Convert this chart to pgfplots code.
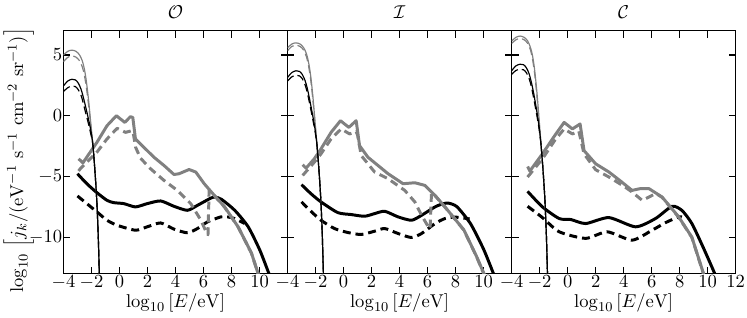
\documentclass[border=0pt]{standalone}
\usepackage{pgfplots}
\pgfplotsset{compat=1.18}
\definecolor{mgray}{gray}{0.5}
\newcommand{\fs}{\fontsize{10.95}{13.6}\selectfont}
\pgfplotsset{
  panel/.style={
    scale only axis, width=132.4pt, height=143.5pt,
    xmin=-4, xmax=12, ymin=-13, ymax=7,
    xtick={-4,-2,...,12}, ytick={-10,-5,0,5},
    tick align=inside, xtick pos=both, ytick pos=both,
    xticklabel pos=lower, yticklabel pos=left,
    major tick length=4.1pt, minor tick num=0,
    axis line style={line width=0.6pt},
    every tick/.style={black, line width=0.6pt},
    tick label style={font=\fs},
    label style={font=\fs},
    xticklabel style={inner sep=1.2pt},
    yticklabel style={inner sep=0.6pt},
    xlabel={$\log_{10}\left[E/\mathrm{eV}\right]$},
    xlabel style={yshift=2.4pt},
    title style={font=\fs, yshift=-2.2pt},
    clip=true,
  },
  tks/.style={black, line width=1.76pt, line join=round, smooth, tension=0.4},
  tkd/.style={black, line width=1.76pt, line join=round, dash pattern=on 4.7pt off 2.9pt, smooth, tension=0.4},
  tgs/.style={mgray, line width=1.76pt, line join=round},
  tgd/.style={mgray, line width=1.76pt, line join=round, dash pattern=on 4.7pt off 2.9pt},
  nbs/.style={black, line width=0.7pt, smooth, tension=0.5},
  nbd/.style={black, line width=0.7pt, dash pattern=on 4.7pt off 2.35pt, smooth, tension=0.5},
  ngs/.style={mgray, line width=0.7pt, smooth, tension=0.5},
  ngd/.style={mgray, line width=0.7pt, dash pattern=on 4.7pt off 2.35pt, smooth, tension=0.5},
}
\begin{document}
\begin{tikzpicture}
% ---------------- Panel O ----------------
\begin{axis}[panel, name=p1, at={(0pt,0pt)}, title={$\mathcal{O}$},
  xticklabels={$-4$,$-2$,$0$,$2$,$4$,$6$,$8$,$10$,{}}]
\addplot[tks] coordinates {(-3.0,-4.78) (-2.33,-5.6) (-1.61,-6.34) (-0.89,-6.97) (-0.41,-7.16) (0.31,-7.24) (1.14,-7.51) (1.98,-7.24) (2.94,-7.02) (3.89,-7.46) (4.85,-7.79) (5.57,-7.38) (6.53,-6.78) (6.85,-6.7) (7.3,-6.9) (8.23,-7.79) (9.19,-9.15) (10.02,-11.07) (10.67,-13) (11,-14)};
\addplot[tkd] coordinates {(-3.0,-6.61) (-2.33,-7.24) (-1.61,-7.92) (-0.89,-8.61) (-0.17,-9.02) (1.14,-9.43) (1.98,-9.15) (2.94,-8.83) (3.89,-9.34) (4.85,-9.64) (5.57,-9.29) (6.29,-8.74) (7.24,-8.33) (7.7,-8.33) (8.23,-8.47) (8.94,-8.88)};
\addplot[tgs] coordinates {(-2.92,-3.55) (-2.61,-3.88) (-2.09,-3.0) (-1.61,-2.19) (-0.89,-0.82) (-0.22,0.0) (0.07,-0.27) (0.38,-0.55) (0.78,-0.08) (0.95,-0.14) (1.14,-1.91) (1.74,-2.6) (2.46,-3.42) (3.18,-4.1) (3.89,-4.84) (4.25,-4.78) (4.97,-4.43) (5.45,-4.64) (6.05,-5.6) (6.77,-6.56) (7.5,-7.5) (8.47,-9.15) (9.42,-11.3) (9.9,-13) (10.1,-14)};
\addplot[tgd] coordinates {(-2.92,-4.55) (-2.8,-4.37) (-1.61,-3.0) (-0.89,-1.91) (-0.17,-1.04) (0.43,-1.37) (0.9,-1.23) (0.98,-1.4) (1.15,-2.6) (1.5,-3.5) (2.22,-4.37) (3.18,-5.33) (4.13,-6.15) (5.09,-7.24) (5.81,-8.6) (6.24,-9.7) (6.32,-9.8) (6.4,-6.15) (6.77,-6.58) (7.5,-7.52) (8.47,-9.17) (9.42,-11.32) (9.9,-13.02) (10.1,-14)};
\addplot[ngs] coordinates {(-4,5.0) (-3.7,5.3) (-3.4,5.4) (-3.1,5.3) (-2.85,5.0) (-2.65,4.5) (-2.5,3.8) (-2.35,2.7) (-2.2,1.2) (-2.05,-0.6) (-1.9,-2.4) (-1.75,-4.6) (-1.62,-7.0) (-1.52,-9.8) (-1.44,-13) (-1.4,-14.5)};
\addplot[ngd] coordinates {(-4,4.45) (-3.7,4.8) (-3.4,4.92) (-3.1,4.82) (-2.85,4.52) (-2.65,4.0) (-2.5,3.3) (-2.35,2.2) (-2.2,0.8) (-2.05,-0.8) (-1.9,-2.4) (-1.75,-4.6) (-1.62,-7.0) (-1.52,-9.8) (-1.44,-13) (-1.4,-14.5)};
\addplot[nbs] coordinates {(-4,2.45) (-3.7,2.85) (-3.4,3.0) (-3.15,2.95) (-2.95,2.7) (-2.75,2.2) (-2.6,1.6) (-2.45,0.9) (-2.25,-0.1) (-2.05,-1.2) (-1.9,-2.4) (-1.75,-4.6) (-1.62,-7.0) (-1.52,-9.8) (-1.44,-13) (-1.4,-14.5)};
\addplot[nbd] coordinates {(-4,2.0) (-3.7,2.3) (-3.4,2.45) (-3.15,2.4) (-2.95,2.15) (-2.75,1.7) (-2.6,1.1) (-2.45,0.4) (-2.25,-0.5) (-2.05,-1.5) (-1.9,-2.4) (-1.75,-4.6) (-1.62,-7.0) (-1.52,-9.8) (-1.44,-13) (-1.4,-14.5)};
\end{axis}
% ---------------- Panel I ----------------
\begin{axis}[panel, name=p2, at={(132.4pt,0pt)}, title={$\mathcal{I}$},
  xticklabels={$-4$,$-2$,$0$,$2$,$4$,$6$,$8$,$10$,{}}, yticklabels={}]
\addplot[tks] coordinates {(-3.0,-5.68) (-2.33,-6.42) (-1.61,-7.1) (-0.41,-7.98) (0.55,-8.14) (1.5,-8.28) (2.22,-8.06) (2.94,-7.87) (3.89,-8.33) (4.85,-8.61) (5.57,-8.2) (6.53,-7.51) (7.1,-7.25) (7.5,-7.2) (8.1,-7.5) (9.07,-8.9) (10.0,-11.0) (10.7,-13) (11,-14)};
\addplot[tkd] coordinates {(-3.0,-7.1) (-2.33,-7.87) (-1.61,-8.61) (-0.65,-9.29) (0.31,-9.62) (1.26,-9.78) (2.22,-9.51) (2.94,-9.29) (3.89,-9.7) (4.85,-10.03) (5.57,-9.7) (6.53,-8.88) (7.24,-8.47) (8.0,-8.35) (9.0,-8.5)};
\addplot[tgs] coordinates {(-2.92,-4.04) (-2.68,-4.32) (-2.09,-3.55) (-1.61,-2.73) (-0.89,-1.37) (-0.22,-0.41) (0.07,-0.68) (0.38,-0.96) (0.9,-0.41) (1.14,-2.46) (1.74,-3.42) (2.46,-4.1) (3.18,-4.78) (4.25,-5.6) (5.09,-5.52) (5.81,-5.74) (6.53,-6.56) (7.24,-7.51) (8.59,-9.4) (9.5,-11.6) (10.02,-13) (10.3,-14)};
\addplot[tgd] coordinates {(-2.92,-4.92) (-2.09,-3.83) (-1.61,-3.14) (-0.89,-1.91) (-0.17,-1.09) (0.43,-1.5) (0.9,-1.31) (1.0,-1.6) (1.26,-3.28) (2.22,-4.64) (3.18,-5.19) (4.37,-6.15) (5.09,-7.1) (5.57,-8.2) (6.05,-9.15) (6.18,-9.3) (6.28,-6.3) (6.53,-6.58) (7.24,-7.53) (8.59,-9.42) (9.5,-11.62) (10.02,-13.02) (10.3,-14)};
\addplot[ngs] coordinates {(-4,5.6) (-3.7,5.9) (-3.4,6.0) (-3.1,5.9) (-2.85,5.6) (-2.65,5.1) (-2.5,4.4) (-2.35,3.3) (-2.2,1.7) (-2.05,-0.3) (-1.9,-2.4) (-1.75,-4.6) (-1.62,-7.0) (-1.52,-9.8) (-1.44,-13) (-1.4,-14.5)};
\addplot[ngd] coordinates {(-4,5.35) (-3.7,5.7) (-3.4,5.8) (-3.1,5.7) (-2.85,5.4) (-2.65,4.85) (-2.5,4.1) (-2.35,3.0) (-2.2,1.4) (-2.05,-0.5) (-1.9,-2.4) (-1.75,-4.6) (-1.62,-7.0) (-1.52,-9.8) (-1.44,-13) (-1.4,-14.5)};
\addplot[nbs] coordinates {(-4,3.15) (-3.7,3.55) (-3.4,3.7) (-3.15,3.65) (-2.95,3.4) (-2.75,2.9) (-2.6,2.3) (-2.45,1.5) (-2.25,0.3) (-2.05,-1.0) (-1.9,-2.4) (-1.75,-4.6) (-1.62,-7.0) (-1.52,-9.8) (-1.44,-13) (-1.4,-14.5)};
\addplot[nbd] coordinates {(-4,2.85) (-3.7,3.2) (-3.4,3.33) (-3.15,3.28) (-2.95,3.05) (-2.75,2.55) (-2.6,1.95) (-2.45,1.15) (-2.25,0.0) (-2.05,-1.2) (-1.9,-2.4) (-1.75,-4.6) (-1.62,-7.0) (-1.52,-9.8) (-1.44,-13) (-1.4,-14.5)};
\end{axis}
% ---------------- Panel C ----------------
\begin{axis}[panel, name=p3, at={(264.8pt,0pt)}, title={$\mathcal{C}$},
  xticklabels={$-4$,$-2$,$0$,$2$,$4$,$6$,$8$,$10$,$12$}, yticklabels={}]
\addplot[tks] coordinates {(-2.86,-6.23) (-1.8,-7.51) (-0.6,-8.47) (0.23,-8.55) (1.29,-8.88) (2.95,-8.39) (4.85,-9.15) (6.27,-8.47) (7.45,-7.46) (8.16,-7.8) (8.87,-8.88) (9.7,-10.9) (10.5,-13) (10.8,-14)};
\addplot[tkd] coordinates {(-2.86,-7.46) (-1.8,-8.39) (-0.6,-9.56) (1.29,-10.1) (2.83,-9.56) (4.6,-10.25) (6.03,-9.43) (7.0,-8.8) (7.93,-8.33) (8.15,-8.35)};
\addplot[tgs] coordinates {(-2.86,-4.18) (-2.7,-4.56) (-1.8,-3.14) (-0.9,-1.6) (-0.25,-0.55) (0.34,-1.09) (0.89,-0.68) (1.17,-2.87) (2.0,-3.96) (2.95,-4.64) (3.8,-5.4) (4.6,-6.15) (5.2,-6.0) (5.8,-6.0) (6.74,-6.69) (7.93,-8.33) (8.87,-10) (9.7,-13) (10,-14)};
\addplot[tgd] coordinates {(-2.86,-5.05) (-1.8,-3.55) (-0.9,-2.0) (-0.25,-1.09) (0.34,-1.5) (0.8,-1.28) (1.17,-3.14) (2.0,-4.45) (2.95,-5.05) (4.0,-5.8) (4.6,-6.28) (5.32,-6.97) (5.8,-6.7) (6.3,-6.4) (6.74,-6.72) (7.93,-8.36) (8.87,-10.03) (9.7,-13.03) (10,-14)};
\addplot[ngs] coordinates {(-4,6.15) (-3.7,6.45) (-3.4,6.56) (-3.1,6.45) (-2.85,6.15) (-2.65,5.6) (-2.5,4.9) (-2.35,3.7) (-2.2,2.0) (-2.05,-0.1) (-1.9,-2.4) (-1.75,-4.6) (-1.62,-7.0) (-1.52,-9.8) (-1.44,-13) (-1.4,-14.5)};
\addplot[ngd] coordinates {(-4,5.95) (-3.7,6.25) (-3.4,6.36) (-3.1,6.25) (-2.85,5.95) (-2.65,5.4) (-2.5,4.6) (-2.35,3.4) (-2.2,1.7) (-2.05,-0.3) (-1.9,-2.4) (-1.75,-4.6) (-1.62,-7.0) (-1.52,-9.8) (-1.44,-13) (-1.4,-14.5)};
\addplot[nbs] coordinates {(-4,3.7) (-3.7,4.1) (-3.4,4.24) (-3.15,4.2) (-2.95,3.95) (-2.75,3.45) (-2.6,2.8) (-2.45,2.0) (-2.25,0.7) (-2.05,-0.8) (-1.9,-2.4) (-1.75,-4.6) (-1.62,-7.0) (-1.52,-9.8) (-1.44,-13) (-1.4,-14.5)};
\addplot[nbd] coordinates {(-4,3.4) (-3.7,3.72) (-3.4,3.83) (-3.15,3.78) (-2.95,3.55) (-2.75,3.05) (-2.6,2.45) (-2.45,1.6) (-2.25,0.35) (-2.05,-1.0) (-1.9,-2.4) (-1.75,-4.6) (-1.62,-7.0) (-1.52,-9.8) (-1.44,-13) (-1.4,-14.5)};
\end{axis}
\node[rotate=90, anchor=center, font=\fs, inner sep=1pt] at (-26.5pt,67pt)
  {$\log_{10}\,\left[j_k/(\mathrm{eV}^{-1}\ \mathrm{s}^{-1}\ \mathrm{cm}^{-2}\ \mathrm{sr}^{-1})\right]$};
\path (-37.5pt,67pt) -- (-36pt,67pt);
\end{tikzpicture}
\end{document}
